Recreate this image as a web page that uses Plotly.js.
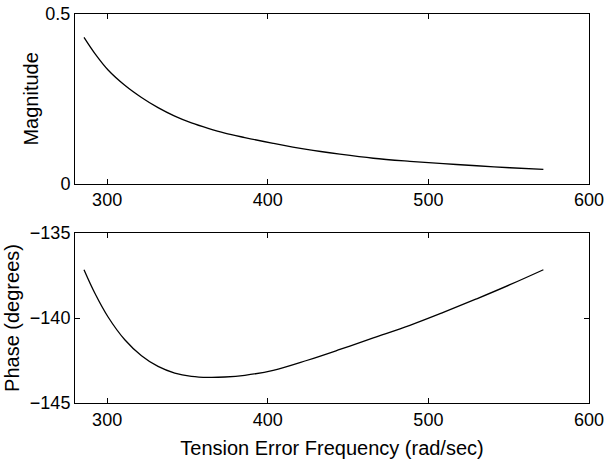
<!DOCTYPE html>
<html>
<head>
<meta charset="utf-8">
<script src="https://cdn.plot.ly/plotly-3.0.1.min.js"></script>
<style>html,body{margin:0;padding:0;background:#fff;}</style>
</head>
<body>
<div id="chart" style="width:608px;height:468px;"></div>
<script>
const freq = [285.6, 292.3, 300.6, 311, 321.4, 331.7, 342.1, 352.5, 362.9, 373.3, 385.7, 403.4, 424.2, 444.9, 465.7, 488.5, 509.3, 530.1, 550.8, 571.6];
const magnitude = [0.431, 0.384, 0.335, 0.290, 0.254, 0.224, 0.199, 0.179, 0.163, 0.149, 0.136, 0.119, 0.101, 0.087, 0.075, 0.066, 0.059, 0.053, 0.047, 0.042];
const phase = [-137.16, -138.53, -139.94, -141.28, -142.22, -142.85, -143.24, -143.43, -143.49, -143.47, -143.37, -143.08, -142.50, -141.85, -141.17, -140.43, -139.67, -138.87, -138.04, -137.16];
const xTicks = [300, 400, 500, 600];
const magTicks = [0, 0.5];
const magTickText = ['0', '0.5'];
const phaseTicks = [-145, -140, -135];

const fam = 'Liberation Sans, Arial, Helvetica, sans-serif';
const tickFont = {family: fam, size: 18, color: '#000'};
const titleFont = {family: fam, size: 20, color: '#000'};
const axisCommon = {
  showline: true, linecolor: '#000', linewidth: 1, mirror: 'ticks',
  ticks: 'inside', ticklen: 5, tickcolor: '#000', tickwidth: 1,
  showgrid: false, zeroline: false, tickfont: tickFont
};

const traces = [
  {x: freq, y: magnitude, type: 'scatter', mode: 'lines', line: {color: '#000', width: 1.3, shape: 'spline', smoothing: 1}, xaxis: 'x', yaxis: 'y', hoverinfo: 'skip'},
  {x: freq, y: phase, type: 'scatter', mode: 'lines', line: {color: '#000', width: 1.3, shape: 'spline', smoothing: 1}, xaxis: 'x2', yaxis: 'y2', hoverinfo: 'skip'}
];

const layout = {
  width: 608, height: 468,
  margin: {l: 75, r: 19, t: 14, b: 65},
  paper_bgcolor: '#fff', plot_bgcolor: '#fff',
  showlegend: false,
  font: tickFont,
  xaxis: Object.assign({}, axisCommon, {range: [280, 600], tickvals: xTicks, ticktext: xTicks.map(String), anchor: 'y', domain: [0, 1]}),
  yaxis: Object.assign({}, axisCommon, {range: [0, 0.5], tickvals: magTicks, ticktext: magTickText, domain: [0.5637, 1], anchor: 'x',
    title: {text: 'Magnitude', font: titleFont, standoff: 1}}),
  xaxis2: Object.assign({}, axisCommon, {range: [280, 600], tickvals: xTicks, ticktext: xTicks.map(String), anchor: 'y2', domain: [0, 1],
    title: {text: 'Tension Error Frequency (rad/sec)', font: titleFont, standoff: 12}}),
  yaxis2: Object.assign({}, axisCommon, {range: [-145, -135], tickvals: phaseTicks, domain: [0, 0.437], anchor: 'x2',
    title: {text: 'Phase (degrees)', font: titleFont, standoff: 4}})
};

Plotly.newPlot('chart', traces, layout, {displayModeBar: false, staticPlot: true});
</script>
</body>
</html>
